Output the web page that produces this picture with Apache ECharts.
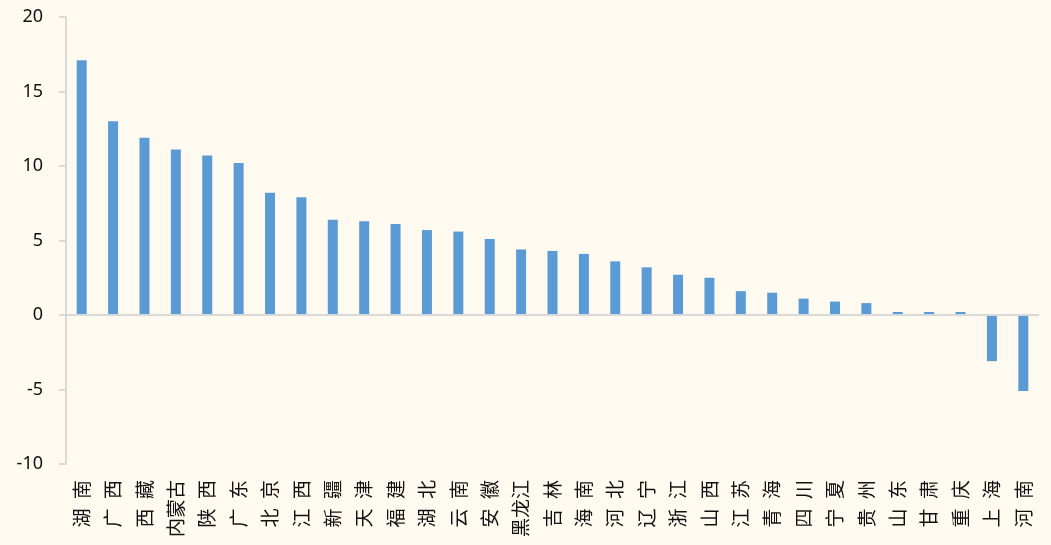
<!DOCTYPE html>
<html>
<head>
<meta charset="utf-8">
<script src="https://cdn.jsdelivr.net/npm/echarts@6/dist/echarts.min.js"></script>
<style>
  html, body { margin: 0; padding: 0; background: #FFFAF0; }
  #main { width: 1051px; height: 545px; }
</style>
</head>
<body>
<div id="main"></div>
<script>
// 省份名称（按数值从高到低）
var provinces = ['湖南', '广西', '西藏', '内蒙古', '陕西', '广东', '北京', '江西', '新疆', '天津',
    '福建', '湖北', '云南', '安徽', '黑龙江', '吉林', '海南', '河北', '辽宁', '浙江',
    '山西', '江苏', '青海', '四川', '宁夏', '贵州', '山东', '甘肃', '重庆', '上海', '河南'];

// 各省数值
var values = [17.1, 13.0, 11.9, 11.1, 10.7, 10.2, 8.2, 7.9, 6.4, 6.3,
    6.1, 5.7, 5.6, 5.1, 4.4, 4.3, 4.1, 3.6, 3.2, 2.7,
    2.5, 1.6, 1.5, 1.1, 0.9, 0.8, 0.2, 0.2, 0.2, -3.1, -5.1];

// y轴范围
var yMin = -10, yMax = 20, yStep = 5;

var axisGray = '#D9D9D9';
var chart = echarts.init(document.getElementById('main'));

chart.setOption({
    backgroundColor: '#FFFAF0',
    animation: false,
    grid: {
        left: 66,
        right: 12,
        top: 17,
        bottom: 81
    },
    xAxis: {
        type: 'category',
        data: provinces,
        axisLine: { show: false, onZero: false },
        axisTick: { show: false },
        axisLabel: {
            interval: 0,
            rotate: 90,
            margin: 16,
            fontSize: 19,
            color: '#111',
            fontFamily: 'Noto Sans CJK SC',
            // 两个字的省份中间加空格
            formatter: function (v) {
                return v.length === 2 ? v.charAt(0) + '\u2002' + v.charAt(1) : v;
            }
        }
    },
    yAxis: {
        type: 'value',
        min: yMin,
        max: yMax,
        interval: yStep,
        axisLine: { show: true, lineStyle: { color: axisGray, width: 2 } },
        axisTick: { show: true, length: 7, lineStyle: { color: axisGray, width: 2 } },
        splitLine: { show: false },
        axisLabel: {
            margin: 23,
            fontSize: 18,
            color: '#111',
            fontFamily: 'Noto Sans'
        }
    },
    series: [{
        type: 'bar',
        data: values,
        barWidth: 10,
        itemStyle: { color: '#5B9BD5' },
        markLine: {
            silent: true,
            symbol: 'none',
            label: { show: false },
            lineStyle: { color: axisGray, width: 2, type: 'solid' },
            data: [{ yAxis: 0 }]
        }
    }]
});
</script>
</body>
</html>
